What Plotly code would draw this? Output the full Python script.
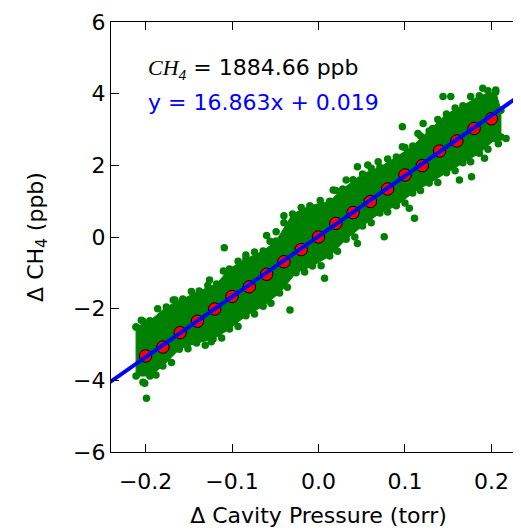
import plotly.graph_objects as go

# ---- data ----
# binned means (red circles)
bin_x = [-0.20, -0.18, -0.16, -0.14, -0.12, -0.10, -0.08, -0.06, -0.04, -0.02, 0.00,
         0.02, 0.04, 0.06, 0.08, 0.10, 0.12, 0.14, 0.16, 0.18, 0.20]
bin_y = [-3.32, -3.07, -2.67, -2.35, -2.01, -1.66, -1.39, -1.04, -0.69, -0.35, 0.00,
         0.38, 0.68, 0.99, 1.34, 1.73, 1.99, 2.40, 2.68, 3.03, 3.30]

# envelope of the dense green cloud (upper edge left->right, lower edge right->left)
cloud_upper_x = [-0.211, -0.195, -0.176, -0.157, -0.138, -0.118, -0.103, -0.084, -0.064, -0.049,
                 -0.030, -0.010, 0.013, 0.028, 0.051, 0.071, 0.090, 0.109, 0.128, 0.148,
                 0.167, 0.186, 0.205, 0.211]
cloud_upper_y = [-2.51, -2.34, -1.95, -1.73, -1.51, -1.31, -0.89, -0.61, -0.39, -0.11,
                 0.64, 0.87, 1.00, 1.34, 1.76, 1.95, 2.23, 2.54, 2.96, 3.43,
                 3.66, 3.94, 4.05, 3.54]
cloud_lower_x = [0.211, 0.205, 0.186, 0.167, 0.148, 0.128, 0.109, 0.090, 0.071, 0.051,
                 0.032, 0.013, -0.007, -0.026, -0.045, -0.064, -0.084, -0.103, -0.122, -0.141,
                 -0.161, -0.180, -0.195, -0.211]
cloud_lower_y = [2.79, 2.74, 2.34, 2.07, 1.79, 1.51, 1.23, 0.87, 0.67, 0.31,
                 -0.06, -0.53, -0.81, -1.00, -1.56, -1.93, -2.20, -2.57, -2.85, -2.96,
                 -3.13, -3.60, -3.88, -3.88]

# extra individual dots along the ragged edges of the cloud
rim_x = [-0.203, -0.186, -0.166, -0.147, -0.128, -0.110, -0.093, -0.074, -0.056, -0.040,
         -0.020, 0.002, 0.020, 0.040, 0.061, 0.080, 0.100, 0.118, 0.138, 0.158,
         0.176, 0.196,
         0.208, 0.196, 0.176, 0.158, 0.138, 0.118, 0.100, 0.080, 0.061, 0.042,
         0.022, 0.003, -0.016, -0.036, -0.055, -0.074, -0.093, -0.112, -0.131, -0.151,
         -0.170, -0.188, -0.203]
rim_y = [-2.35, -2.00, -1.76, -1.52, -1.35, -0.95, -0.68, -0.42, -0.12, 0.40,
         0.82, 1.02, 1.30, 1.60, 1.92, 2.18, 2.50, 2.82, 3.28, 3.60,
         3.92, 4.08,
         2.60, 2.45, 2.10, 1.85, 1.52, 1.30, 0.95, 0.70, 0.40, 0.00,
         -0.40, -0.80, -0.98, -1.40, -1.85, -2.15, -2.50, -2.82, -3.02, -3.12,
         -3.50, -3.85, -4.05]

# scattered individual points outside the dense band
out_x = [-0.205, -0.199, -0.201, -0.168, -0.126, -0.109, -0.124, -0.084, -0.060, -0.049,
         -0.033, -0.040, 0.007, 0.017, 0.032, 0.045, 0.045, 0.057, 0.069, 0.076,
         0.097, 0.097, 0.105, 0.111, 0.115, 0.121, 0.132, 0.144, 0.153, 0.163,
         0.177, 0.190, 0.205, 0.217, 0.192, 0.186]
out_y = [-2.32, -4.50, -4.08, -1.76, -1.20, -0.30, -2.92, -0.50, 0.04, 0.15,
         -2.04, 0.59, -1.15, 1.31, 1.59, 1.96, -0.18, 2.01, 2.10, 0.01,
         3.08, 2.52, 0.80, 0.52, 2.89, 3.17, 3.03, 3.92, 3.92, 1.59,
         1.68, 4.15, 4.10, 2.75, 2.20, 2.48]

slope = 16.863
intercept = 0.019
ch4_mean = "1884.66"

x_range = [-0.24, 0.24]
y_range = [-6, 6]
x_ticks = [-0.2, -0.1, 0.0, 0.1, 0.2]
y_ticks = [-6, -4, -2, 0, 2, 4, 6]

GREEN = "#008000"
FONT = "DejaVu Sans"

fig = go.Figure()

fig.add_trace(go.Scatter(
    x=cloud_upper_x + cloud_lower_x + cloud_upper_x[:1],
    y=cloud_upper_y + cloud_lower_y + cloud_upper_y[:1],
    mode="lines+markers", fill="toself", fillcolor=GREEN,
    line=dict(color=GREEN, width=1),
    marker=dict(color=GREEN, size=7.5),
    hoverinfo="skip", showlegend=False))

fig.add_trace(go.Scatter(
    x=rim_x + out_x, y=rim_y + out_y, mode="markers",
    marker=dict(color=GREEN, size=7.5), showlegend=False))

fig.add_trace(go.Scatter(
    x=bin_x, y=bin_y, mode="markers",
    marker=dict(color="#ff0000", size=12.5, line=dict(color="black", width=1)),
    showlegend=False))

line_x = [x_range[0] - 0.02, x_range[1] + 0.02]
fig.add_trace(go.Scatter(
    x=line_x, y=[slope * v + intercept for v in line_x], mode="lines",
    line=dict(color="#0000ff", width=4), showlegend=False))

axis_common = dict(
    showgrid=False, zeroline=False, showline=True, linecolor="black", linewidth=1.3,
    mirror="ticks", ticks="inside", ticklen=8, tickwidth=1, tickcolor="black",
    tickfont=dict(family=FONT, size=22, color="black"),
)

fig.update_xaxes(range=x_range, tickvals=x_ticks, tickformat=".1f", ticklabelstandoff=9,
                 title=dict(text="Δ Cavity Pressure (torr)",
                            font=dict(family=FONT, size=22, color="black"), standoff=15),
                 **axis_common)
fig.update_yaxes(range=y_range, tickvals=y_ticks,
                 title=dict(text="Δ CH<sub>4</sub> (ppb)",
                            font=dict(family=FONT, size=22, color="black"), standoff=23),
                 **axis_common)

fig.add_annotation(x=-0.2, y=4.70, xref="x", yref="y", xanchor="left", yanchor="middle",
                   showarrow=False,
                   text="<span style=\"font-family:Liberation Serif\"><i>CH<sub>4</sub></i></span> = "
                        + ch4_mean + " ppb",
                   font=dict(family=FONT, size=22, color="black"))
fig.add_annotation(x=-0.2, y=3.75, xref="x", yref="y", xanchor="left", yanchor="middle",
                   showarrow=False,
                   text=f"y = {slope:.3f}x + {intercept:.3f}",
                   font=dict(family=FONT, size=22, color="#0000ff"))

fig.update_layout(
    width=521, height=524,
    margin=dict(l=103, r=3, t=14, b=80),
    plot_bgcolor="white", paper_bgcolor="white",
)

fig.write_html("out.html")
